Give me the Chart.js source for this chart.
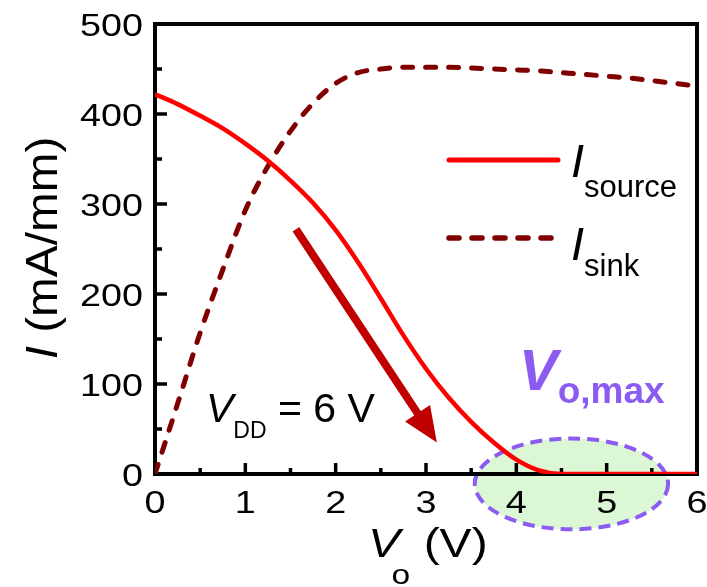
<!DOCTYPE html>
<html>
<head>
<meta charset="utf-8">
<script src="https://cdn.jsdelivr.net/npm/chart.js@4.4.1/dist/chart.umd.min.js"></script>
<style>
  html, body { margin: 0; padding: 0; background: #fff; }
</style>
</head>
<body>
<canvas id="chart" width="707" height="587"></canvas>
<script>
// Vo (V)
const VO = [0, 0.25, 0.5, 0.75, 1, 1.25, 1.5, 1.75, 2, 2.25, 2.5, 2.75, 3,
            3.25, 3.5, 3.75, 4, 4.25, 4.5, 4.75, 5, 5.25, 5.5, 5.75, 6];
// I (mA/mm)
const I_SOURCE = [422, 411, 398, 384, 367, 348, 326, 301, 271, 235, 195, 154, 117,
                  85, 58, 35, 16, 4, 0, 0, 0, 0, 0, 0, 0];
const I_SINK = [0, 78, 157, 227, 293, 342, 381, 412, 434, 446, 450, 452, 452,
                452, 451, 450, 449, 448, 446, 444, 442, 440, 437, 434, 431];
const X_TICKS = [0, 1, 2, 3, 4, 5, 6];
const Y_TICKS = [0, 100, 200, 300, 400, 500];

const FONT = "'Liberation Sans', Arial, sans-serif";
const PURPLE = "#8c5cf2";

// draw a row of text pieces (italic letter, subscript ...) from one anchor
function runs(ctx, x, y, parts, opts = {}) {
  const sx = opts.sx || 1;
  ctx.save();
  ctx.translate(x, y);
  if (opts.rot) ctx.rotate(opts.rot);
  ctx.scale(sx, 1);
  ctx.fillStyle = opts.color || "#000";
  ctx.textBaseline = "alphabetic";
  ctx.textAlign = "left";
  let total = 0;
  parts.forEach(p => { ctx.font = p[1]; total += (p[3] || 0) + ctx.measureText(p[0]).width; });
  let cx = 0;
  if (opts.align === "center") cx = -total / 2;
  if (opts.align === "right") cx = -total;
  parts.forEach(p => {
    ctx.font = p[1];
    cx += p[3] || 0;
    ctx.fillText(p[0], cx, p[2] || 0);
    cx += ctx.measureText(p[0]).width;
  });
  ctx.restore();
}

const decor = {
  id: "decor",
  beforeDatasetsDraw(chart) {
    const { ctx, chartArea: a, scales: { x, y } } = chart;

    // Vo,max ellipse
    const cx = x.getPixelForValue(4.61), cy = y.getPixelForValue(-11);
    const rx = x.getPixelForValue(4.61 + 1.07) - cx;
    const ry = cy - y.getPixelForValue(-11 + 50.5);
    ctx.save();
    ctx.beginPath();
    ctx.ellipse(cx, cy, rx, ry, 0, 0, Math.PI * 2);
    ctx.fillStyle = "#dcf7d6";
    ctx.fill();
    ctx.setLineDash([12, 7]);
    ctx.lineWidth = 4;
    ctx.strokeStyle = PURPLE;
    ctx.stroke();
    ctx.restore();

    // frame
    ctx.save();
    ctx.strokeStyle = "#000";
    ctx.lineWidth = 4;
    ctx.strokeRect(a.left, a.top, a.right - a.left, a.bottom - a.top);

    // inward ticks, major + minor
    ctx.lineWidth = 3.5;
    ctx.beginPath();
    Y_TICKS.forEach((v, i) => {
      const py = y.getPixelForValue(v);
      ctx.moveTo(a.left, py); ctx.lineTo(a.left + 12, py);
      if (i < Y_TICKS.length - 1) {
        const pm = y.getPixelForValue(v + 50);
        ctx.moveTo(a.left, pm); ctx.lineTo(a.left + 7, pm);
      }
    });
    X_TICKS.forEach((v, i) => {
      const px = x.getPixelForValue(v);
      ctx.moveTo(px, a.bottom); ctx.lineTo(px, a.bottom - 11);
      if (i < X_TICKS.length - 1) {
        const pm = x.getPixelForValue(v + 0.5);
        ctx.moveTo(pm, a.bottom); ctx.lineTo(pm, a.bottom - 6);
      }
    });
    ctx.stroke();
    ctx.restore();

    // tick labels
    const tf = "32px " + FONT;
    Y_TICKS.forEach(v => {
      runs(ctx, a.left - 12, y.getPixelForValue(v) + 11.5, [[String(v), tf]], { align: "right", sx: 1.18 });
    });
    X_TICKS.forEach(v => {
      runs(ctx, x.getPixelForValue(v), a.bottom + 39, [[String(v), tf]], { align: "center", sx: 1.18 });
    });

    // axis titles
    runs(ctx, 57, 248, [["I", "italic 45px " + FONT], [" (mA/mm)", "45px " + FONT]],
      { align: "center", rot: -Math.PI / 2, sx: 1.06 });
    runs(ctx, 368, 557, [["V", "italic 40px " + FONT], ["o", "28px " + FONT, 27, -7], [" (V)", "40px " + FONT]],
      { sx: 1.2 });
  },
  afterDatasetsDraw(chart) {
    const { ctx, scales: { x, y } } = chart;
    const ds = chart.data.datasets;

    // legend
    [[160, 177, "source", 20], [238, 260, "sink", 16]].forEach((row, i) => {
      ctx.save();
      ctx.beginPath();
      ctx.strokeStyle = ds[i].borderColor;
      ctx.lineWidth = ds[i].borderWidth + 0.5;
      ctx.lineCap = "round";
      ctx.setLineDash(ds[i].borderDash || []);
      ctx.moveTo(449, row[0]); ctx.lineTo(558, row[0]);
      ctx.stroke();
      ctx.restore();
      runs(ctx, 571, row[1], [["I", "italic 47px " + FONT], [row[2], "31px " + FONT, row[3]]]);
    });

    // arrow
    const x0 = x.getPixelForValue(1.56), y0 = y.getPixelForValue(272);
    const x1 = x.getPixelForValue(3.12), y1 = y.getPixelForValue(35);
    const ang = Math.atan2(y1 - y0, x1 - x0);
    const hl = 35, hw = 15;
    const bx = x1 - hl * Math.cos(ang), by = y1 - hl * Math.sin(ang);
    ctx.save();
    ctx.strokeStyle = ctx.fillStyle = "#c00000";
    ctx.lineWidth = 8;
    ctx.beginPath();
    ctx.moveTo(x0, y0); ctx.lineTo(bx + 4 * Math.cos(ang), by + 4 * Math.sin(ang));
    ctx.stroke();
    ctx.beginPath();
    ctx.moveTo(x1, y1);
    ctx.lineTo(bx + hw * Math.sin(ang), by - hw * Math.cos(ang));
    ctx.lineTo(bx - hw * Math.sin(ang), by + hw * Math.cos(ang));
    ctx.closePath();
    ctx.fill();
    ctx.restore();

    // annotations
    runs(ctx, 206, 422, [["V", "italic 41px " + FONT], ["DD", "23px " + FONT, 16], [" = 6 V", "41px " + FONT]]);
    runs(ctx, 519, 390, [["V", "italic bold 58px " + FONT], ["o,max", "bold 37px " + FONT, 13]], { color: PURPLE });
  }
};

new Chart(document.getElementById("chart"), {
  type: "line",
  data: {
    datasets: [
      {
        label: "I source",
        data: VO.map((v, i) => ({ x: v, y: I_SOURCE[i] })),
        borderColor: "#ff0000",
        borderWidth: 4.5,
        pointRadius: 0,
        cubicInterpolationMode: "monotone",
        fill: false
      },
      {
        label: "I sink",
        data: VO.map((v, i) => ({ x: v, y: I_SINK[i] })),
        borderColor: "#800000",
        borderWidth: 5,
        borderDash: [10, 13],
        borderCapStyle: "round",
        pointRadius: 0,
        cubicInterpolationMode: "monotone",
        fill: false
      }
    ]
  },
  options: {
    responsive: false,
    animation: false,
    layout: { padding: { top: 24, right: 10, left: 0, bottom: 0 } },
    plugins: { legend: { display: false }, tooltip: { enabled: false } },
    scales: {
      x: {
        type: "linear", min: 0, max: 6,
        ticks: { display: false, stepSize: 1 },
        grid: { display: false }, border: { display: false },
        afterFit(s) { s.height = 113; }
      },
      y: {
        min: 0, max: 500,
        ticks: { display: false, stepSize: 100 },
        grid: { display: false }, border: { display: false },
        afterFit(s) { s.width = 155; }
      }
    }
  },
  plugins: [decor]
});
</script>
</body>
</html>
